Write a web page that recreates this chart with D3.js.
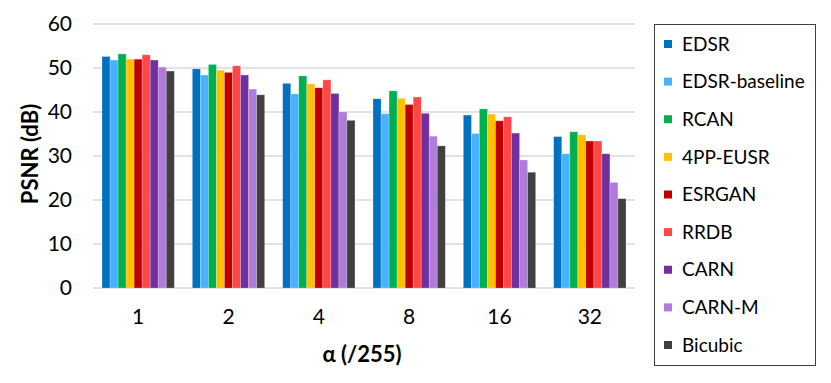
<!DOCTYPE html>
<html><head><meta charset="utf-8">
<script src="https://cdn.jsdelivr.net/npm/d3@7"></script>
<style>body{margin:0;background:#fff}svg{display:block}</style>
</head><body>
<svg id="c" width="831" height="383"></svg>
<script>
const categories = ["1","2","4","8","16","32"];
const seriesNames = ["EDSR","EDSR-baseline","RCAN","4PP-EUSR","ESRGAN","RRDB","CARN","CARN-M","Bicubic"];
const seriesColors = ["#0070C0","#47B2FF","#00B050","#FFC000","#C00000","#FF4747","#7030A0","#B07CD9","#404040"];
const EDSR          = [52.6, 49.8, 46.5, 43.0, 39.3, 34.4];
const EDSR_baseline = [51.8, 48.4, 44.1, 39.6, 35.1, 30.5];
const RCAN          = [53.2, 50.8, 48.2, 44.8, 40.7, 35.5];
const PP_EUSR       = [52.0, 49.5, 46.4, 43.1, 39.5, 34.8];
const ESRGAN        = [52.0, 49.0, 45.5, 41.7, 38.0, 33.4];
const RRDB          = [53.0, 50.5, 47.3, 43.4, 38.9, 33.4];
const CARN          = [51.8, 48.4, 44.2, 39.7, 35.2, 30.5];
const CARN_M        = [50.2, 45.2, 40.0, 34.5, 29.1, 24.0];
const Bicubic       = [49.3, 43.9, 38.1, 32.3, 26.3, 20.3];
const yTicks = [0,10,20,30,40,50,60];
const seriesValues = [EDSR, EDSR_baseline, RCAN, PP_EUSR, ESRGAN, RRDB, CARN, CARN_M, Bicubic];

(function(){
const FONT = "Lato, 'Open Sans', sans-serif";
const svg = d3.select("#c");
const pl = 93, pr = 635, pt = 24, pb = 288;

const x = d3.scaleBand().domain(categories).range([pl, pr]).paddingInner(0.2).paddingOuter(0.1);
const xs = d3.scaleBand().domain(seriesNames).range([0, x.bandwidth()]);
const y = d3.scaleLinear().domain([0, 60]).range([pb, pt]);

svg.append("g").selectAll("line").data(yTicks).join("line")
  .attr("x1", pl).attr("x2", pr)
  .attr("y1", d => y(d)).attr("y2", d => y(d))
  .attr("stroke", "#d9d9d9").attr("stroke-width", 1.3);

const yAxis = d3.axisLeft(y).tickValues(yTicks).tickSize(0).tickPadding(0);
const ya = svg.append("g").attr("transform", `translate(${pl - 21},0)`).call(yAxis);
ya.select(".domain").remove();
ya.selectAll("text").attr("font-family", FONT).attr("font-size", 21).attr("fill", "#000");

const xAxis = d3.axisBottom(x).tickSize(0).tickPadding(0);
const xa = svg.append("g").attr("transform", `translate(0,${pb + 21})`).call(xAxis);
xa.select(".domain").remove();
xa.selectAll("text").attr("font-family", FONT).attr("font-size", 21).attr("fill", "#000");

seriesNames.forEach((s, i) => {
  svg.append("g").selectAll("rect").data(seriesValues[i]).join("rect")
    .attr("x", (d, j) => x(categories[j]) + xs(s))
    .attr("width", xs.bandwidth())
    .attr("y", d => y(d))
    .attr("height", d => y(0) - y(d))
    .attr("fill", seriesColors[i])
    .attr("stroke", "#fff").attr("stroke-opacity", 0.25).attr("stroke-width", 0.8);
});

svg.append("text").attr("transform", `translate(38,${(pt + pb) / 2 - 2}) rotate(-90)`)
  .attr("text-anchor", "middle").attr("font-family", FONT).attr("font-weight", "bold")
  .attr("font-size", 22).text("PSNR (dB)");
svg.append("text").attr("x", 362).attr("y", 362)
  .attr("text-anchor", "middle").attr("font-family", FONT).attr("font-weight", "bold")
  .attr("font-size", 22).text("α (/255)");

const lg = svg.append("g");
lg.append("rect").attr("x", 654.5).attr("y", 24.5).attr("width", 161).attr("height", 341)
  .attr("fill", "none").attr("stroke", "#404040").attr("stroke-width", 1);
const ly = d3.scalePoint().domain(seriesNames).range([44, 345]);
seriesNames.forEach((s, i) => {
  lg.append("rect").attr("x", 664).attr("y", ly(s) - 4).attr("width", 8).attr("height", 8).attr("fill", seriesColors[i]);
  lg.append("text").attr("x", 682).attr("y", ly(s)).attr("dy", "0.35em")
    .attr("font-family", FONT).attr("font-size", 19).attr("fill", "#000").text(s);
});
})();
</script>
</body></html>
